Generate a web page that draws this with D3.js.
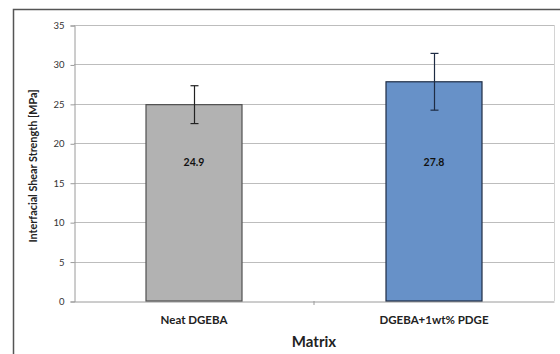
<!DOCTYPE html>
<html><head><meta charset="utf-8">
<script src="https://cdn.jsdelivr.net/npm/d3@7"></script>
<style>
html,body{margin:0;padding:0;background:#fff;}
svg{display:block;font-family:Lato,"Open Sans",sans-serif;}
</style></head>
<body><svg id="c" width="560" height="354"></svg>
<script>
const categories = ["Neat DGEBA", "DGEBA+1wt% PDGE"];
const values = [24.9, 27.8];
const errors = [2.4, 3.6];
const yTicks = [0, 5, 10, 15, 20, 25, 30, 35];
const barColors = ["#b2b2b2", "#6791c8"];
const barStrokes = ["#505050", "#1e2c44"];

const svg = d3.select("#c");
const L = 74, R = 554, T = 25, B = 301;

// outer chart border
svg.append("path").attr("d", "M13.5,354 V9.5 H560").attr("fill","none").attr("stroke","#555").attr("stroke-width",1.5);

const x = d3.scaleBand().domain(categories).range([L, R]).paddingInner(0).paddingOuter(0);
const y = d3.scaleLinear().domain([0, 35]).range([B, T]);

// gridlines
svg.append("g").selectAll("line").data(yTicks.slice(1)).join("line")
  .attr("x1", L).attr("x2", R).attr("y1", d => Math.round(y(d))+0.5).attr("y2", d => Math.round(y(d))+0.5)
  .attr("stroke", "#bdbdbd").attr("stroke-width", 1);
// right plot border
svg.append("line").attr("x1", R+0.5).attr("x2", R+0.5).attr("y1", y(35)).attr("y2", B)
  .attr("stroke", "#d4d4d4");

// y axis
const yAxis = d3.axisLeft(y).tickValues(yTicks).tickSize(4).tickPadding(6);
const gy = svg.append("g").attr("transform", `translate(${L+0.5},0.5)`).call(yAxis);
gy.select(".domain").attr("stroke", "#9a9a9a");
gy.selectAll(".tick line").attr("stroke", "#9a9a9a");
gy.selectAll(".tick text").attr("font-size", 9.5).attr("fill", "#333").attr("font-family","Lato,sans-serif");

// x axis
const xAxis = d3.axisBottom(x).tickSize(0).tickFormat("");
const gx = svg.append("g").attr("transform", `translate(0,${B+0.5})`).call(xAxis);
gx.select(".domain").attr("stroke", "#9a9a9a");
gx.selectAll(".tick").remove();
// category boundary ticks
svg.append("g").selectAll("line").data([categories[0]]).join("line")
  .attr("x1", d => x(d)+x.bandwidth()).attr("x2", d => x(d)+x.bandwidth())
  .attr("y1", B).attr("y2", B+4).attr("stroke","#9a9a9a");

// bars
const bw = x.bandwidth()*0.4;
const cx = d => x(d) + x.bandwidth()/2;
svg.append("g").selectAll("rect").data(categories).join("rect")
  .attr("x", d => cx(d) - bw/2).attr("width", bw)
  .attr("y", (d,i) => y(values[i])).attr("height", (d,i) => B - y(values[i]))
  .attr("fill", (d,i) => barColors[i]).attr("stroke", (d,i) => barStrokes[i]).attr("stroke-width", 1.2);

// error bars
const eg = svg.append("g");
categories.forEach((c,i) => {
  const xc = Math.round(cx(c))+0.5;
  const col = i === 0 ? "#222" : "#1e2c44";
  eg.append("line").attr("x1", xc).attr("x2", xc).attr("y1", y(values[i]+errors[i])).attr("y2", y(values[i]-errors[i]))
    .attr("stroke", col).attr("stroke-width", 1.2);
  [values[i]+errors[i], values[i]-errors[i]].forEach(v => {
    eg.append("line").attr("x1", xc-4).attr("x2", xc+4).attr("y1", y(v)).attr("y2", y(v))
      .attr("stroke", col).attr("stroke-width", 1.2);
  });
});

// value labels
svg.append("g").selectAll("text").data(categories).join("text")
  .attr("x", d => cx(d)).attr("y", y(17.1))
  .attr("text-anchor", "middle").attr("font-size", 10.5).attr("font-weight", "bold").attr("fill", "#111")
  .text((d,i) => values[i].toFixed(1));

// category labels
svg.append("g").selectAll("text").data(categories).join("text")
  .attr("x", d => cx(d)).attr("y", B + 23)
  .attr("text-anchor", "middle").attr("font-size", 11.5).attr("font-weight", "bold").attr("fill", "#222")
  .text(d => d);

// axis titles
svg.append("text").attr("x", (L+R)/2).attr("y", 347).attr("text-anchor","middle")
  .attr("font-size", 15).attr("font-weight","bold").attr("fill","#222").text("Matrix");
svg.append("text").attr("transform", `translate(37,${(T+B)/2+3}) rotate(-90)`).attr("text-anchor","middle")
  .attr("font-size", 10.8).attr("font-weight","bold").attr("fill","#222").text("Interfacial Shear Strength [MPa]");
</script></body></html>
